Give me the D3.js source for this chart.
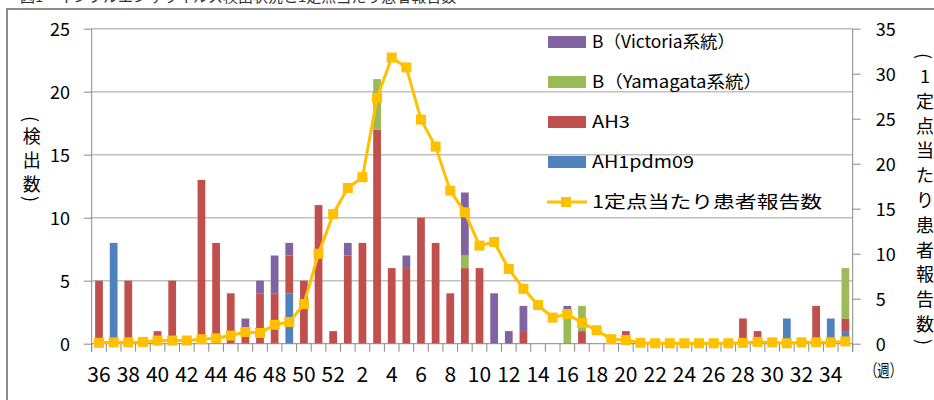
<!DOCTYPE html>
<html>
<head>
<meta charset="utf-8">
<script src="https://cdn.jsdelivr.net/npm/d3@7"></script>
<style>
body { margin: 0; background: #fff; }
text { font-family: "Noto Sans CJK JP", "Noto Sans", sans-serif; fill: #000; }
</style>
</head>
<body>
<svg id="chart" width="934" height="400"></svg>
<script>
// weeks of the season (36 .. 52, then 1 .. 35)
var weeks = ["36","37","38","39","40","41","42","43","44","45","46","47","48","49","50","51","52",
    "1","2","3","4","5","6","7","8","9","10","11","12","13","14","15","16","17","18","19","20",
    "21","22","23","24","25","26","27","28","29","30","31","32","33","34","35"];

// detections per week, by subtype
var ah1pdm09 = [0,8,0,0,0,0,0,0,0,0,0,0,0,4,0,0,0,
    0,0,0,0,0,0,0,0,0,0,0,0,0,0,0,0,0,0,0,0,0,0,0,0,0,0,0,0,0,0,2,0,0,2,1];
var ah3 = [5,0,5,0,1,5,0,13,8,4,1,4,4,3,5,11,1,
    7,8,17,6,6,10,8,4,6,6,0,0,1,0,0,0,1,0,0,1,0,0,0,0,0,0,0,2,1,0,0,0,3,0,1];
var yamagata = [0,0,0,0,0,0,0,0,0,0,0,0,0,0,0,0,0,
    0,0,4,0,0,0,0,0,1,0,0,0,0,0,0,2.7,2,0,0,0,0,0,0,0,0,0,0,0,0,0,0,0,0,0,4];
var victoria = [0,0,0,0,0,0,0,0,0,0,1,1,3,1,0,0,0,
    1,0,0,0,1,0,0,0,5,0,4,1,2,0,0,0.3,0,0,0,0,0,0,0,0,0,0,0,0,0,0,0,0,0,0,0];

// patients per sentinel site
var perSentinel = [0.1,0.15,0.15,0.2,0.35,0.35,0.35,0.5,0.6,0.9,1.3,1.2,2.1,2.4,4.4,10.0,14.4,
    17.3,18.5,27.3,31.8,30.7,24.9,21.9,17.0,14.6,10.9,11.3,8.3,6.1,4.3,2.9,3.3,2.3,1.5,0.5,0.4,
    0.1,0.05,0.05,0.05,0.05,0.05,0.05,0.1,0.2,0.15,0.05,0.15,0.15,0.15,0.25];

var seriesKeys = ["AH1pdm09", "AH3", "B（Yamagata系統）", "B（Victoria系統）"];
var seriesColors = ["#4F81BD", "#C0504D", "#9BBB59", "#8064A2"];
var lineName = "1定点当たり患者報告数";
var lineColor = "#FFC000";

var leftTicks = [0, 5, 10, 15, 20, 25];
var rightTicks = [0, 5, 10, 15, 20, 25, 30, 35];
var weekLabels = weeks.filter(function (w, i) { return i % 2 === 0; });

var svg = d3.select('#chart');
var plotLeft = 91.7, plotRight = 852.7, plotTop = 28.7, plotBottom = 343.7;

// cut-off caption at the very top
svg.append('text')
    .attr('x', 20).attr('y', 1.5)
    .attr('font-size', 15)
    .style('fill', '#333')
    .text('図1　インフルエンザウイルス検出状況と1定点当たり患者報告数');

// outer frame
svg.append('rect')
    .attr('x', 7).attr('y', 9)
    .attr('width', 1000).attr('height', 1000)
    .style('fill', 'none')
    .style('stroke', '#8c8c8c')
    .style('stroke-width', 2);

var x = d3.scaleBand()
    .domain(weeks)
    .range([plotLeft, plotRight])
    .paddingInner(0.47)
    .paddingOuter(0.235);
var yLeft = d3.scaleLinear().domain([0, 25]).range([plotBottom, plotTop]);
var yRight = d3.scaleLinear().domain([0, 35]).range([plotBottom, plotTop]);
var color = d3.scaleOrdinal().domain(seriesKeys).range(seriesColors);

// gridlines
svg.append('g')
    .selectAll('line')
    .data(leftTicks.filter(function (t) { return t > 0; }))
    .enter()
    .append('line')
    .attr('x1', plotLeft).attr('x2', plotRight)
    .attr('y1', yLeft).attr('y2', yLeft)
    .style('stroke', '#c0c0c0')
    .style('stroke-width', 1.5);

// stacked bars
var table = weeks.map(function (w, i) {
    var row = { week: w };
    row[seriesKeys[0]] = ah1pdm09[i];
    row[seriesKeys[1]] = ah3[i];
    row[seriesKeys[2]] = yamagata[i];
    row[seriesKeys[3]] = victoria[i];
    return row;
});
var stacked = d3.stack().keys(seriesKeys)(table);

svg.append('g')
    .selectAll('g')
    .data(stacked)
    .enter()
    .append('g')
    .style('fill', function (d) { return color(d.key); })
    .selectAll('rect')
    .data(function (d) { return d; })
    .enter()
    .append('rect')
    .attr('x', function (d) { return x(d.data.week); })
    .attr('width', x.bandwidth())
    .attr('y', function (d) { return yLeft(d[1]); })
    .attr('height', function (d) { return yLeft(d[0]) - yLeft(d[1]); });

// left axis
var leftAxis = svg.append('g')
    .attr('transform', 'translate(' + plotLeft + ',0)')
    .call(d3.axisLeft(yLeft).tickValues(leftTicks).tickSize(8).tickPadding(13.7).tickSizeOuter(0));
leftAxis.select('.domain').remove();
leftAxis.selectAll('line').style('stroke', '#888');
leftAxis.selectAll('text').attr('font-size', 18).attr('dy', '0.38em')
    .attr('font-family', '"Noto Sans CJK JP", sans-serif');
svg.append('line')
    .attr('x1', plotLeft).attr('x2', plotLeft)
    .attr('y1', plotTop).attr('y2', plotBottom + 8)
    .style('stroke', '#888');

// right axis
var rightAxis = svg.append('g')
    .attr('transform', 'translate(' + plotRight + ',0)')
    .call(d3.axisRight(yRight).tickValues(rightTicks).tickSize(8).tickPadding(15).tickSizeOuter(0));
rightAxis.select('.domain').remove();
rightAxis.selectAll('line').style('stroke', '#888');
rightAxis.selectAll('text').attr('font-size', 18).attr('dy', '0.38em')
    .attr('font-family', '"Noto Sans CJK JP", sans-serif');
svg.append('line')
    .attr('x1', plotRight).attr('x2', plotRight)
    .attr('y1', plotTop).attr('y2', plotBottom + 8)
    .style('stroke', '#888');

// bottom axis: tick marks on band edges, labels every other week
var half = (x.step() - x.bandwidth()) / 2;
var edges = weeks.map(function (w) { return x(w) - half; });
edges.push(x(weeks[weeks.length - 1]) + x.bandwidth() + half);
svg.append('line')
    .attr('x1', plotLeft).attr('x2', plotRight)
    .attr('y1', plotBottom).attr('y2', plotBottom)
    .style('stroke', '#888');
svg.append('g')
    .selectAll('line')
    .data(edges)
    .enter()
    .append('line')
    .attr('x1', function (d) { return d; })
    .attr('x2', function (d) { return d; })
    .attr('y1', plotBottom).attr('y2', plotBottom + 8)
    .style('stroke', '#888');

var bottomAxis = svg.append('g')
    .attr('transform', 'translate(0,' + plotBottom + ')')
    .call(d3.axisBottom(x).tickValues(weekLabels).tickSize(0).tickPadding(23));
bottomAxis.select('.domain').remove();
bottomAxis.selectAll('text').attr('font-size', 21)
    .attr('font-family', '"Noto Sans CJK JP", sans-serif');

// patients per sentinel line
var center = function (i) { return x(weeks[i]) + x.bandwidth() / 2; };
var line = d3.line()
    .x(function (d, i) { return center(i); })
    .y(function (d) { return yRight(d); });

svg.append('path')
    .datum(perSentinel)
    .attr('d', line)
    .style('fill', 'none')
    .style('stroke', lineColor)
    .style('stroke-width', 3)
    .style('stroke-linejoin', 'round');

svg.append('g')
    .selectAll('rect')
    .data(perSentinel)
    .enter()
    .append('rect')
    .attr('x', function (d, i) { return center(i) - 5; })
    .attr('y', function (d) { return yRight(d) - 5; })
    .attr('width', 10).attr('height', 10)
    .style('fill', lineColor);

// legend
var legendItems = seriesKeys.slice().reverse();
var legendWidths = { "B（Victoria系統）": 143, "B（Yamagata系統）": 170, "AH3": 38, "AH1pdm09": 102 };
var legend = svg.append('g');
legendItems.forEach(function (k, i) {
    var cy = 42 + 40 * i;
    legend.append('rect')
        .attr('x', 548).attr('y', cy - 6)
        .attr('width', 38).attr('height', 12)
        .style('fill', color(k));
    legend.append('text')
        .attr('x', 592).attr('y', cy)
        .attr('dy', '0.36em')
        .attr('font-size', 17)
        .attr('textLength', legendWidths[k])
        .attr('lengthAdjust', 'spacingAndGlyphs')
        .text(k);
});
var lineY = 42 + 40 * 4;
legend.append('line')
    .attr('x1', 547).attr('x2', 587)
    .attr('y1', lineY).attr('y2', lineY)
    .style('stroke', lineColor)
    .style('stroke-width', 3);
legend.append('rect')
    .attr('x', 561).attr('y', lineY - 5)
    .attr('width', 10).attr('height', 10)
    .style('fill', lineColor);
legend.append('text')
    .attr('x', 592).attr('y', lineY)
    .attr('dy', '0.36em')
    .attr('font-size', 17)
    .attr('textLength', 230)
    .attr('lengthAdjust', 'spacingAndGlyphs')
    .text(lineName);

// vertical axis titles, one character at a time (parentheses turned sideways)
function verticalTitle(str, cx, startY, step, parenStep, size) {
    var g = svg.append('g');
    var yPos = startY;
    var chars = Array.from(str);
    chars.forEach(function (c, i) {
        var isParen = (c === '(' || c === ')');
        if (i > 0) {
            var prevParen = (chars[i - 1] === '(' || chars[i - 1] === ')');
            yPos += (isParen || prevParen) ? parenStep : step;
        }
        var t = g.append('text')
            .attr('x', cx).attr('y', yPos)
            .attr('text-anchor', 'middle')
            .attr('dominant-baseline', 'central')
            .attr('font-size', size)
            .text(c);
        if (isParen) {
            t.attr('transform', 'rotate(90,' + cx + ',' + yPos + ')');
        }
    });
}
verticalTitle('(検出数)', 31.7, 119, 24, 16, 18);
verticalTitle('(1定点当たり患者報告数)', 925, 56, 24.8, 19, 18);

svg.append('text')
    .attr('x', 865).attr('y', 377)
    .attr('font-size', 17)
    .attr('textLength', 37)
    .attr('lengthAdjust', 'spacingAndGlyphs')
    .text('（週）');
</script>
</body>
</html>
